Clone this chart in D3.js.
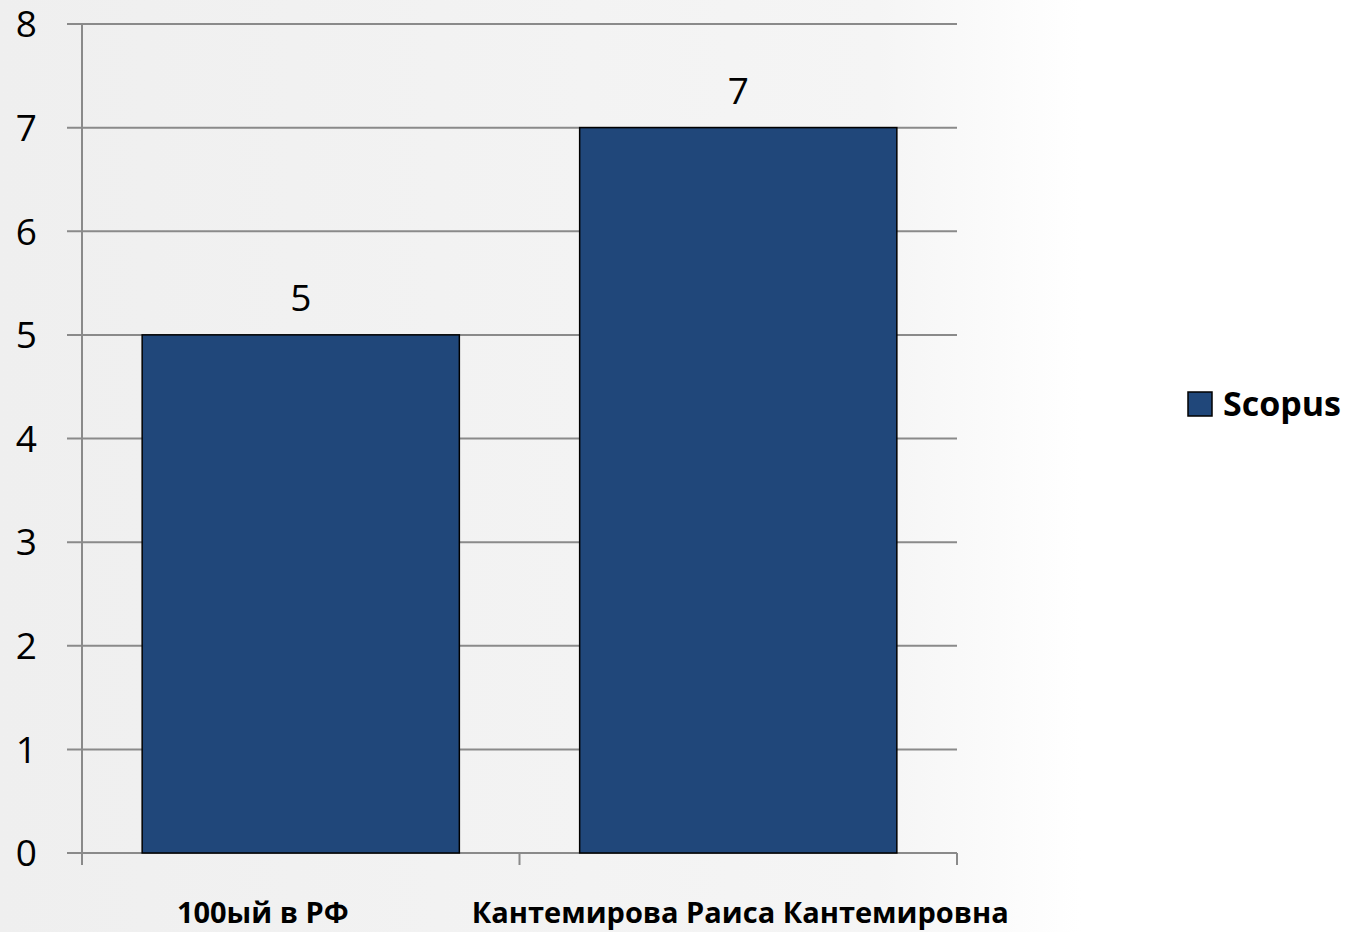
<!DOCTYPE html>
<html>
<head>
<meta charset="utf-8">
<script src="https://cdn.jsdelivr.net/npm/d3@7"></script>
<style>
  body { margin: 0; background: #fff; }
  text { font-family: "Open Sans", sans-serif; }
</style>
</head>
<body>
<div id="chart"></div>
<script>
// data
var categories = ["100ый в РФ", "Кантемирова Раиса Кантемировна"];
var scopusValues = [5, 7];
var yTicks = [0, 1, 2, 3, 4, 5, 6, 7, 8];
var seriesName = "Scopus";

var W = 1351, H = 932;
var margin = { top: 24, right: 394, bottom: 79, left: 82 },
  width = W - margin.left - margin.right,
  height = H - margin.top - margin.bottom;

var svg = d3.select("#chart")
  .append("svg")
  .attr("width", W)
  .attr("height", H);

// faint background wash
var grad = svg.append("defs").append("linearGradient")
  .attr("id", "bg").attr("x1", "0").attr("x2", "1");
grad.append("stop").attr("offset", "0").attr("stop-color", "#efefef");
grad.append("stop").attr("offset", "0.65").attr("stop-color", "#f5f5f5");
grad.append("stop").attr("offset", "0.8").attr("stop-color", "#ffffff");
svg.append("rect").attr("width", W).attr("height", H).attr("fill", "url(#bg)");

var g = svg.append("g")
  .attr("transform", "translate(" + margin.left + "," + margin.top + ")");

var x = d3.scaleBand()
  .domain(categories)
  .range([0, width])
  .paddingInner(0.275)
  .paddingOuter(0.1375);

var y = d3.scaleLinear()
  .domain([0, 8])
  .range([height, 0]);

// gridlines
g.selectAll(".grid")
  .data(yTicks)
  .enter()
  .append("line")
  .attr("x1", -15)
  .attr("x2", width)
  .attr("y1", function (d) { return y(d); })
  .attr("y2", function (d) { return y(d); })
  .attr("stroke", "#8a8a8a")
  .attr("stroke-width", 2);

// y axis line
g.append("line")
  .attr("x1", 0).attr("x2", 0)
  .attr("y1", 0).attr("y2", height + 12)
  .attr("stroke", "#8a8a8a")
  .attr("stroke-width", 2);

// category ticks (between bands)
var bandEdges = [0, width / 2, width];
g.selectAll(".xtick")
  .data(bandEdges)
  .enter()
  .append("line")
  .attr("x1", function (d) { return d; })
  .attr("x2", function (d) { return d; })
  .attr("y1", height)
  .attr("y2", height + 12)
  .attr("stroke", "#8a8a8a")
  .attr("stroke-width", 2);

// y labels
g.selectAll(".ylab")
  .data(yTicks)
  .enter()
  .append("text")
  .attr("x", -45)
  .attr("y", function (d) { return y(d); })
  .attr("dy", "0.36em")
  .attr("text-anchor", "end")
  .attr("font-size", "37px")
  .attr("fill", "#000")
  .text(function (d) { return d; });

// bars
g.selectAll(".bar")
  .data(scopusValues)
  .enter()
  .append("rect")
  .attr("x", function (d, i) { return x(categories[i]); })
  .attr("y", function (d) { return y(d); })
  .attr("width", x.bandwidth())
  .attr("height", function (d) { return height - y(d); })
  .attr("fill", "#20477a")
  .attr("stroke", "#000")
  .attr("stroke-width", 1.5);

// value labels
g.selectAll(".val")
  .data(scopusValues)
  .enter()
  .append("text")
  .attr("x", function (d, i) { return x(categories[i]) + x.bandwidth() / 2; })
  .attr("y", function (d) { return y(d) - 24; })
  .attr("text-anchor", "middle")
  .attr("font-size", "37px")
  .attr("fill", "#000")
  .text(function (d) { return d; });

// category labels
g.selectAll(".cat")
  .data(categories)
  .enter()
  .append("text")
  .attr("x", function (d) { return x(d) + x.bandwidth() / 2; })
  .attr("dx", function (d, i) { return i === 0 ? -38 : 2; })
  .attr("y", height + 70)
  .attr("text-anchor", "middle")
  .attr("font-size", "29px")
  .attr("font-weight", "bold")
  .attr("fill", "#000")
  .text(function (d) { return d; });

// legend
var legend = svg.append("g")
  .attr("transform", "translate(1188,392)");
legend.append("rect")
  .attr("width", 24)
  .attr("height", 24)
  .attr("fill", "#20477a")
  .attr("stroke", "#000")
  .attr("stroke-width", 1.5);
legend.append("text")
  .attr("x", 35)
  .attr("y", 12)
  .attr("dy", "0.36em")
  .attr("font-size", "34px")
  .attr("font-weight", "bold")
  .attr("fill", "#000")
  .text(seriesName);
</script>
</body>
</html>
